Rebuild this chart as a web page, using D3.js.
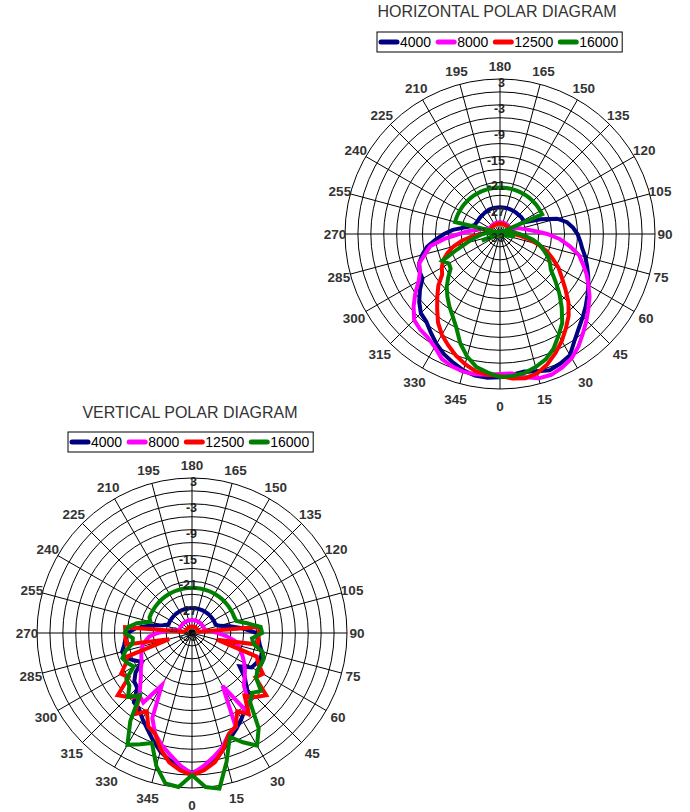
<!DOCTYPE html>
<html><head><meta charset="utf-8">
<script src="https://cdn.jsdelivr.net/npm/d3@7"></script>
<style>
body{margin:0;background:#fff}
svg text{font-family:Arial,"Liberation Sans",sans-serif}
</style>
</head><body>
<svg id="chart" width="690" height="812"></svg>
<script>
// ---------- data ----------
const seriesNames = ["4000", "8000", "12500", "16000"];
const seriesColors = ["#000080", "#FF00FF", "#FF0000", "#008000"];
const angleTickLabels = [0,15,30,45,60,75,90,105,120,135,150,165,180,195,210,225,240,255,270,285,300,315,330,345];
const ringLabels = [3,-3,-9,-15,-21,-27,-33];
const ringValues = [3,0,-3,-6,-9,-12,-15,-18,-21,-24,-27,-30];
const dataAngles = d3.range(0, 360, 5); // measurement angles (degrees)

// Horizontal polar diagram (dB)
const h4000 = [0.3,-0.2,-0.6,0,0.7,0.2,-0.5,-2.8,-4.5,-5.8,-7,-8.2,-9.3,-10.4,-11.5,-12.5,-13.6,-14.3,
  -15,-16,-17.2,-19.3,-23,-26.5,-26.7,-26.7,-26.7,-26.8,-26.8,-26.8,-26.8,-26.8,-26.8,-26.8,-26.8,-26.8,
  -26.8,-26.8,-26.8,-26.8,-26.8,-26.8,-26.9,-26.9,-27,-27,-27,-27,-27,-26.9,-26.8,-26,-24.5,-22,
  -20,-18,-15.8,-14.3,-13,-12.4,-12.2,-10.3,-8.5,-7,-6.4,-5,-3.5,-2.2,-1.2,-0.2,0.4,0.5];
const h8000 = [-0.5,-0.5,0.8,1.7,1.8,1.2,0.3,-1.2,-3,-4.6,-6.2,-7.6,-9.3,-10.8,-12.5,-14,-16.5,-19,
  -22,-25,-26.8,-28,-29,-30,-30.3,-30.3,-30.3,-30.3,-30.3,-30.3,-30.3,-30.3,-30.3,-30.3,-30.3,-30.3,
  -30.3,-30.3,-30.3,-30.3,-30.3,-30.3,-30.3,-30.3,-30.3,-30.3,-30.3,-30.3,-30.3,-30,-29.5,-28.5,-27.5,-25.5,
  -23.5,-20,-16.5,-15,-13,-12.5,-11.2,-9,-6.8,-4.8,-4.1,-3.7,-2.7,-1,-0.3,0.1,0.1,-0.2];
const h12500 = [0,0.7,1,0.5,-0.8,-2.5,-4.3,-6.3,-8.2,-10.5,-13.2,-15.5,-17.3,-19.5,-21.5,-24,-26.3,-28.3,
  -30,-30.3,-30.6,-30.6,-30.6,-30.6,-30.6,-30.6,-30.6,-30.6,-30.6,-30.6,-30.6,-30.6,-30.6,-30.6,-30.6,-30.6,
  -30.6,-30.6,-30.6,-30.6,-30.6,-30.6,-30.6,-30.6,-30.6,-30.6,-30.6,-30.6,-30.6,-30.6,-30.6,-30.6,-30.6,-29.5,
  -28.7,-26.5,-24,-21.8,-20,-18.4,-17.4,-16.6,-14.3,-12.4,-10.3,-7.9,-6,-4.5,-3,-1.7,-0.6,-0.2];
const h16000 = [0.2,0.1,-0.2,-1,-2,-3.6,-5.8,-7.8,-10.7,-13.5,-16.3,-18.6,-19.6,-20.8,-22.3,-23.5,-25.2,-27,
  -28.5,-29.5,-30.5,-31.5,-37.5,-22.2,-22.2,-22.2,-22.2,-22.2,-22.2,-22.2,-22.2,-22.2,-22.2,-22.2,-22.2,-22.2,
  -22.2,-22.2,-22.2,-22.2,-22.2,-22.2,-22.2,-22.2,-22.2,-22.2,-22.2,-22.2,-22.2,-22.2,-22.2,-22.2,-36.5,-30,
  -29,-28,-26.5,-25,-22.3,-18.2,-19.3,-19,-17.3,-15.5,-14,-12.5,-11,-9,-6,-3.5,-1.6,-0.7];

// Vertical polar diagram (dB)
const v4000 = [-0.5,-1.5,-3,-5,-7,-8.5,-10,-11.5,-12,-15,-17,-19.5,-17,-16.5,-16,-16.2,-17,-17.5,
  -18,-21,-24,-26.5,-27.2,-27.2,-27.2,-27.2,-27.2,-27.2,-27.2,-27.2,-27.2,-27.2,-27.2,-27.2,-27.2,-27.2,
  -27.2,-27.2,-27.2,-27.2,-27.2,-27.2,-27.2,-27.2,-27.2,-27.2,-27.2,-27.2,-27.2,-27.2,-27.2,-26,-23,-20,
  -18,-17.5,-17,-16.2,-16.5,-18,-19.6,-17,-15.5,-15,-12,-11.5,-10,-8.4,-6.5,-4.5,-3,-1.5];
const v8000 = [-0.3,-2,-3.8,-5.6,-8,-9,-18.8,-10.4,-13,-16,-17,-18,-19,-20,-21,-22,-23,-25,
  -27,-28.5,-29.5,-30,-30,-30,-30,-30,-30,-30,-30,-30,-30,-30,-30,-30,-30,-30,
  -30,-30,-30,-30,-30,-30,-30,-30,-30,-30,-30,-30,-30,-30,-30,-30,-29,-27,
  -25,-23,-22,-21,-20.5,-20,-19.5,-18.5,-17.5,-16,-14,-13.3,-19,-11.2,-8,-6,-4.2,-2.1];
const v12500 = [0,-1,-2.5,-5,-8,-9,-12,-10,-14,-12,-10.5,-15,-14,-16,-17,-27,-17.5,-17.5,
  -17.5,-17.2,-31.3,-31.5,-31.5,-31.5,-31.5,-31.5,-31.5,-31.5,-31.5,-31.5,-31.5,-31.5,-31.5,-31.5,-31.5,-31.5,
  -31.5,-31.5,-31.5,-31.5,-31.5,-31.5,-31.5,-31.5,-31.5,-31.5,-31.5,-31.5,-31.5,-31.5,-31.5,-31.5,-31.3,-17.4,
  -17.5,-17.5,-17.5,-27.5,-17,-16,-14,-15,-10.5,-12,-14,-10,-12,-9,-8,-5,-2.5,-1];
const v16000 = [0,2.9,3.7,-2,-7.3,-5,-2.8,-6,-12,-13.3,-12.1,-14.8,-15.5,-15.5,-15.3,-16,-18.5,-19,
  -16.7,-17,-20,-22.3,-22.5,-22.5,-22.5,-22.5,-22.5,-22.5,-22.5,-22.5,-22.5,-22.5,-22.5,-22.5,-22.5,-22.5,
  -22.5,-22.5,-22.5,-22.5,-22.5,-22.5,-22.5,-22.5,-22.5,-22.5,-22.5,-22.5,-22.5,-22.5,-22.5,-23,-20,-18,
  -17.4,-19.2,-19,-17,-15.8,-16.5,-17.4,-14.4,-14,-12,-14.2,-8,-3,-4.5,-5.8,-1,2.5,2.9];

// ---------- drawing ----------
const svg = d3.select("#chart");
const R = 155;
const rScale = d3.scaleLinear().domain([-33, 3]).range([0, R]);
const toRad = d => d * Math.PI / 180;

function drawPolar(cfg) {
  const g = svg.append("g");
  g.append("text").attr("x", cfg.titleX).attr("y", cfg.titleY)
    .attr("text-anchor", "middle").attr("font-size", 16).attr("fill", "#333")
    .text(cfg.title);
  const lg = g.append("g").attr("transform", `translate(${cfg.legendX},${cfg.legendY})`);
  const box = lg.append("rect").attr("x", 0).attr("y", 0).attr("height", 20)
    .attr("fill", "#fff").attr("stroke", "#000").attr("stroke-width", 1);
  let lx = 4;
  seriesNames.forEach((n, i) => {
    lg.append("line").attr("x1", lx).attr("x2", lx + 16).attr("y1", 10).attr("y2", 10)
      .attr("stroke", seriesColors[i]).attr("stroke-width", 5).attr("stroke-linecap", "round");
    const t = lg.append("text").attr("x", lx + 19).attr("y", 15).attr("font-size", 14)
      .attr("fill", "#000").text(n);
    lx += 19 + t.node().getComputedTextLength() + 7;
  });
  box.attr("width", lx - 3);

  const p = g.append("g").attr("transform", `translate(${cfg.cx},${cfg.cy})`);
  p.selectAll("circle.ring").data(ringValues).join("circle")
    .attr("r", d => rScale(d)).attr("fill", "none").attr("stroke", "#000").attr("stroke-width", 1);
  p.selectAll("line.spoke").data(angleTickLabels).join("line")
    .attr("x1", 0).attr("y1", 0)
    .attr("x2", d => R * Math.sin(toRad(d))).attr("y2", d => R * Math.cos(toRad(d)))
    .attr("stroke", "#000").attr("stroke-width", 1);
  const labR = a => R + 10 + 3 * Math.abs(Math.cos(a)) + 4 * Math.max(0, Math.cos(a));
  p.selectAll("text.ang").data(angleTickLabels).join("text")
    .attr("x", d => labR(toRad(d)) * Math.sin(toRad(d)))
    .attr("y", d => labR(toRad(d)) * Math.cos(toRad(d)))
    .attr("text-anchor", "middle").attr("dominant-baseline", "central")
    .attr("font-size", 13.5).attr("font-weight", "bold").attr("fill", "#333")
    .text(d => d);
  const line = d3.lineRadial()
    .angle((d, i) => Math.PI - toRad(dataAngles[i]))
    .radius(d => rScale(d))
    .curve(d3.curveLinearClosed);
  cfg.series.forEach((s, i) => {
    p.append("path").attr("d", line(s)).attr("fill", "none")
      .attr("stroke", seriesColors[i]).attr("stroke-width", 4).attr("stroke-linejoin", "miter");
  });
  p.selectAll("text.rl").data(ringLabels).join("text")
    .attr("x", 5).attr("y", d => -rScale(d) + 4)
    .attr("text-anchor", "end").attr("dominant-baseline", "central")
    .attr("font-size", 12.5).attr("font-weight", "bold").attr("fill", "#222")
    .text(d => d);
  p.append("text").attr("x", -15).attr("y", -1).attr("text-anchor", "end")
    .attr("font-size", 7).attr("fill", "#222").text("-33");
}

drawPolar({
  title: "HORIZONTAL POLAR DIAGRAM", titleX: 497, titleY: 17,
  legendX: 377, legendY: 32, cx: 500, cy: 234,
  series: [h4000, h8000, h12500, h16000]
});
drawPolar({
  title: "VERTICAL POLAR DIAGRAM", titleX: 190, titleY: 418,
  legendX: 68, legendY: 432, cx: 192, cy: 633,
  series: [v4000, v8000, v12500, v16000]
});
</script>
</body></html>
